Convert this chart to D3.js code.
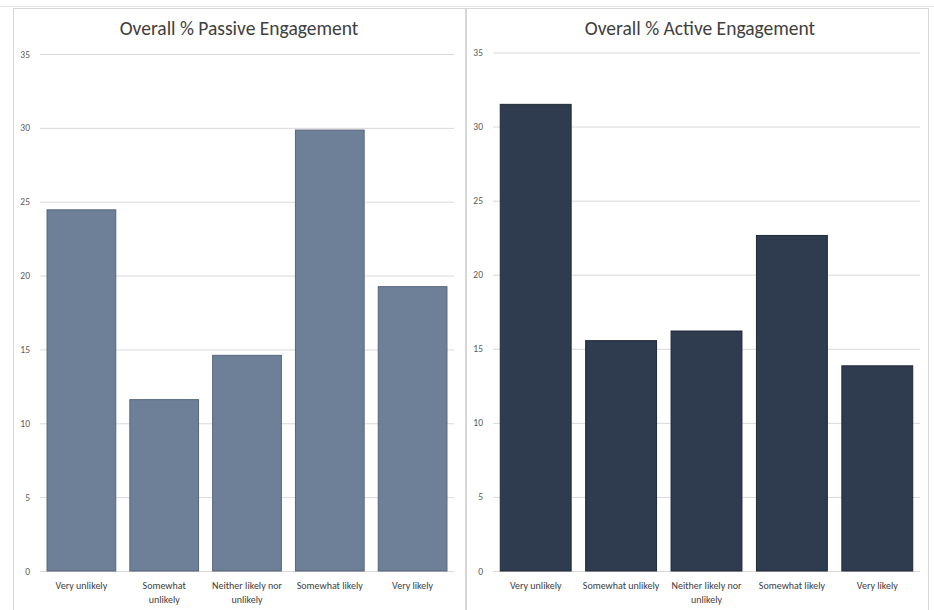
<!DOCTYPE html>
<html><head><meta charset="utf-8">
<script src="https://cdn.jsdelivr.net/npm/d3@7"></script>
<style>body{margin:0;background:#fff}</style>
</head><body>
<svg id="c" width="934" height="610"></svg>
<script>
const categories = ["Very unlikely","Somewhat unlikely","Neither likely nor unlikely","Somewhat likely","Very likely"];
const passiveValues = [24.45, 11.6, 14.6, 29.85, 19.25];
const activeValues = [31.5, 15.55, 16.2, 22.65, 13.85];
const yTicks = [0,5,10,15,20,25,30,35];
const leftLabels = [["Very unlikely"],["Somewhat","unlikely"],["Neither likely nor","unlikely"],["Somewhat likely"],["Very likely"]];
const rightLabels = [["Very unlikely"],["Somewhat unlikely"],["Neither likely nor","unlikely"],["Somewhat likely"],["Very likely"]];

const svg = d3.select("#c");
const font = "Carlito, 'Liberation Sans', 'Open Sans', sans-serif";

svg.append("line").attr("x1",0).attr("x2",934).attr("y1",6.5).attr("y2",6.5).attr("stroke","#e4e4e4");

function panel(opt){
  const g = svg.append("g");
  g.append("rect").attr("x",opt.px).attr("y",8.5).attr("width",opt.pw).attr("height",620)
    .attr("fill","#fff").attr("stroke","#d6d6d6");
  const y = d3.scaleLinear().domain([0,35]).range([opt.y0, opt.y35]);
  const x = d3.scaleBand().domain(categories).range([opt.x0, opt.x1]).paddingInner(0.17).paddingOuter(0.085);
  g.append("text").attr("x",opt.tx).attr("y",35).attr("text-anchor","middle")
    .attr("font-family",font).attr("font-size",19.5).attr("fill","#404040").text(opt.title);
  const ax = g.append("g").attr("transform",`translate(${opt.x0},0)`)
    .call(d3.axisLeft(y).tickValues(yTicks).tickSize(-(opt.x1-opt.x0)).tickPadding(10).tickFormat(d3.format("d")));
  ax.select(".domain").remove();
  ax.selectAll(".tick line").attr("stroke","#d9d9d9");
  ax.selectAll(".tick text").attr("font-family",font).attr("font-size",9.5).attr("fill","#595959");
  g.selectAll("rect.bar").data(opt.values).join("rect").attr("class","bar")
    .attr("x",(d,i)=>x(categories[i])).attr("width",x.bandwidth())
    .attr("y",d=>y(d)).attr("height",d=>y(0)-y(d))
    .attr("fill",opt.color).attr("stroke",opt.stroke).attr("stroke-width",1);
  const lg = g.selectAll("text.cat").data(opt.labels).join("text").attr("class","cat")
    .attr("x",(d,i)=>x(categories[i])+x.bandwidth()/2).attr("y",589)
    .attr("text-anchor","middle").attr("font-family",font).attr("font-size",10).attr("fill","#404040");
  lg.each(function(lines){
    d3.select(this).selectAll("tspan").data(lines).join("tspan")
      .attr("x",d3.select(this).attr("x")).attr("dy",(d,i)=>i?13.5:0).text(d=>d);
  });
}

panel({px:13.5,pw:452,x0:40,x1:454,y0:571,y35:54,tx:239,title:"Overall % Passive Engagement",
  values:passiveValues,color:"#6e7f98",stroke:"#56657c",labels:leftLabels});
panel({px:466.5,pw:462,x0:493,x1:920,y0:571,y35:52.5,tx:700,title:"Overall % Active Engagement",
  values:activeValues,color:"#2f3b4e",stroke:"#1f2836",labels:rightLabels});
</script>
</body></html>
